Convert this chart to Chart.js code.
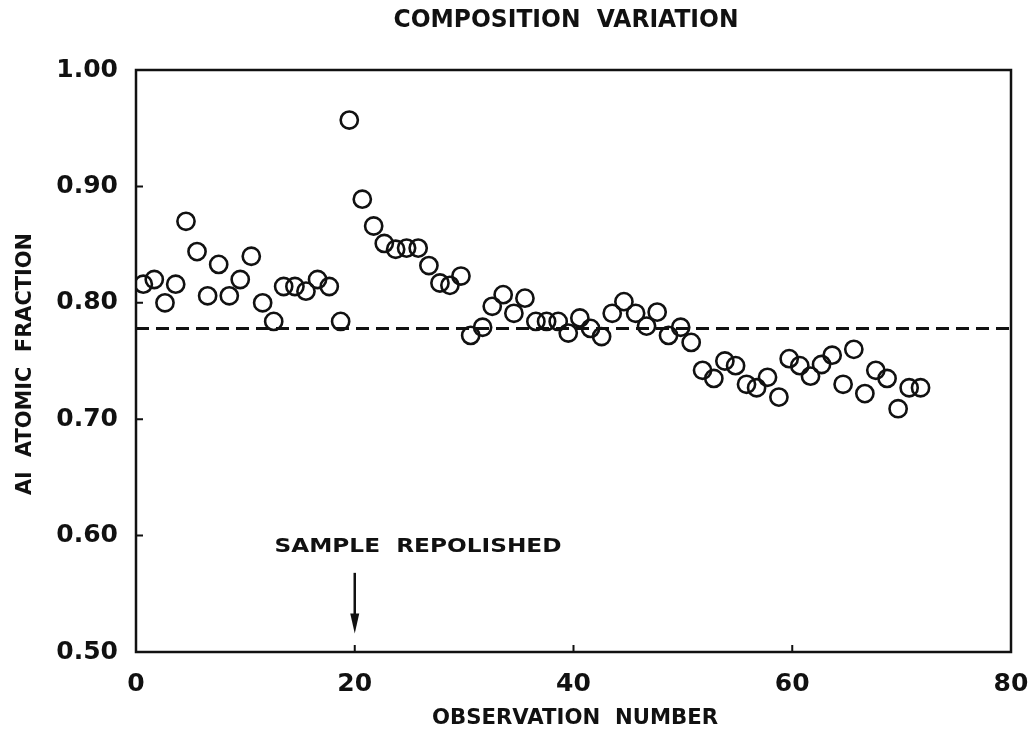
<!DOCTYPE html>
<html>
<head>
<meta charset="utf-8">
<title>Composition Variation</title>
<script src="https://cdn.jsdelivr.net/npm/chart.js@4/dist/chart.umd.min.js"></script>
<style>
    body { margin: 0; background: #ffffff; }
    #wrap { width: 1035px; height: 733px; }
</style>
</head>
<body>
<div id="wrap"><canvas id="chart" width="1035" height="733"></canvas></div>
<script>
// --------------------------------------------
// Data
// --------------------------------------------

const observation = [
    0.67, 1.67, 2.65, 3.63, 4.57, 5.58, 6.55, 7.56, 8.53, 9.53,
    10.54, 11.58, 12.59, 13.5, 14.53, 15.54, 16.6, 17.67, 18.71, 19.5,
    20.69, 21.73, 22.7, 23.74, 24.74, 25.8, 26.78, 27.79, 28.7, 29.71,
    30.6, 31.69, 32.57, 33.57, 34.55, 35.56, 36.56, 37.54, 38.6, 39.52,
    40.58, 41.56, 42.57, 43.54, 44.61, 45.68, 46.68, 47.65, 48.69, 49.8,
    50.76, 51.8, 52.83, 53.84, 54.82, 55.82, 56.74, 57.74, 58.78, 59.72,
    60.69, 61.67, 62.68, 63.65, 64.65, 65.63, 66.64, 67.64, 68.67, 69.68,
    70.69, 71.73
];

const alFraction = [
    0.816, 0.820, 0.800, 0.816, 0.870, 0.844, 0.806, 0.833, 0.806, 0.820,
    0.840, 0.800, 0.784, 0.814, 0.814, 0.810, 0.820, 0.814, 0.784, 0.957,
    0.889, 0.866, 0.851, 0.846, 0.847, 0.847, 0.832, 0.817, 0.815, 0.823,
    0.772, 0.779, 0.797, 0.807, 0.791, 0.804, 0.784, 0.784, 0.784, 0.774,
    0.787, 0.778, 0.771, 0.791, 0.801, 0.791, 0.780, 0.792, 0.772, 0.779,
    0.766, 0.742, 0.735, 0.750, 0.746, 0.730, 0.727, 0.736, 0.719, 0.752,
    0.746, 0.737, 0.747, 0.755, 0.730, 0.760, 0.722, 0.742, 0.735, 0.709,
    0.727, 0.727
];

const meanFraction = 0.778;
const meanRange = [0, 80];

const xTicks = [0, 20, 40, 60, 80];
const yTicks = [0.50, 0.60, 0.70, 0.80, 0.90, 1.00];

// arrow marking the repolish, in data units
const repolishAt = 20;
const arrowFrom = 0.568;
const arrowTo = 0.516;

const titleText = "COMPOSITION  VARIATION";
const xTitle = "OBSERVATION  NUMBER";
const yTitle = "Al  ATOMIC  FRACTION";
const noteText = "SAMPLE  REPOLISHED";


// --------------------------------------------
// Helpers
// --------------------------------------------

const FONT = "'DejaVu Sans', 'Liberation Sans', sans-serif";
const INK = "#111111";

// draw text squeezed to a given width, centred on (cx, cy)
function fittedText(ctx, text, cx, cy, width, font, angle) {

    ctx.save();
    ctx.font = font;
    ctx.fillStyle = INK;
    ctx.textAlign = "center";
    ctx.textBaseline = "middle";

    const natural = ctx.measureText(text).width;

    ctx.translate(cx, cy);
    if (angle) ctx.rotate(angle);
    ctx.scale(width / natural, 1);
    ctx.fillText(text, 0, 0);
    ctx.restore();

}


// --------------------------------------------
// Frame, inward ticks, labels and arrow
// --------------------------------------------

const decorPlugin = {

    id: "decor",

    afterDraw(chart) {

        const ctx = chart.ctx;
        const area = chart.chartArea;
        const xs = chart.scales.x;
        const ys = chart.scales.y;

        ctx.save();
        ctx.strokeStyle = INK;
        ctx.lineWidth = 2.5;
        ctx.strokeRect(area.left, area.top, area.right - area.left, area.bottom - area.top);

        ctx.lineWidth = 2;
        ctx.beginPath();
        yTicks.forEach(v => {
            const py = ys.getPixelForValue(v);
            ctx.moveTo(area.left, py);
            ctx.lineTo(area.left + 7, py);
        });
        xTicks.forEach(v => {
            const px = xs.getPixelForValue(v);
            ctx.moveTo(px, area.bottom);
            ctx.lineTo(px, area.bottom - 7);
        });
        ctx.stroke();

        // arrow
        const ax = xs.getPixelForValue(repolishAt);
        const a0 = ys.getPixelForValue(arrowFrom);
        const a1 = ys.getPixelForValue(arrowTo);

        ctx.lineWidth = 2.5;
        ctx.beginPath();
        ctx.moveTo(ax, a0);
        ctx.lineTo(ax, a1 - 12);
        ctx.stroke();

        ctx.fillStyle = INK;
        ctx.beginPath();
        ctx.moveTo(ax - 4.5, a1 - 20);
        ctx.lineTo(ax + 4.5, a1 - 20);
        ctx.lineTo(ax, a1);
        ctx.closePath();
        ctx.fill();
        ctx.restore();

        fittedText(ctx, titleText, 566, 20, 345, "bold 25px " + FONT);
        fittedText(ctx, noteText, 418, 547, 287, "bold 20px " + FONT);
        fittedText(ctx, xTitle, 575, 719, 286, "bold 21px " + FONT);
        fittedText(ctx, yTitle, 26, 364, 262, "bold 21px " + FONT, -Math.PI / 2);

    }

};


// --------------------------------------------
// Chart
// --------------------------------------------

const points = observation.map((x, i) => ({ x: x, y: alFraction[i] }));
const meanLine = meanRange.map(x => ({ x: x, y: meanFraction }));

new Chart(document.getElementById("chart"), {

    type: "scatter",

    data: {

        datasets: [
            {
                label: "Al fraction",
                data: points,
                pointStyle: "circle",
                pointRadius: 8.6,
                pointBorderWidth: 2.6,
                pointBorderColor: INK,
                pointBackgroundColor: "rgba(0,0,0,0)",
                showLine: false
            },
            {
                label: "Mean",
                data: meanLine,
                showLine: true,
                borderColor: INK,
                borderWidth: 3,
                borderDash: [13, 7],
                pointRadius: 0
            }
        ]

    },

    options: {

        responsive: false,
        animation: false,

        layout: {
            padding: { top: 70, right: 24, bottom: 0, left: 0 }
        },

        plugins: {
            legend: { display: false },
            tooltip: { enabled: false }
        },

        scales: {

            x: {
                type: "linear",
                min: 0,
                max: 80,
                afterFit(scale) {
                    scale.height = 81;
                    scale.paddingLeft = 0;
                    scale.paddingRight = 0;
                },
                afterBuildTicks(scale) { scale.ticks = xTicks.map(v => ({ value: v })); },
                grid: { display: false, drawTicks: false },
                border: { display: false },
                ticks: {
                    padding: 17,
                    color: INK,
                    font: { family: FONT, size: 25, weight: "bold" },
                    maxRotation: 0,
                    callback: v => String(v)
                }
            },

            y: {
                type: "linear",
                min: 0.5,
                max: 1.0,
                afterFit(scale) {
                    scale.width = 136;
                    scale.paddingTop = 0;
                    scale.paddingBottom = 0;
                },
                afterBuildTicks(scale) { scale.ticks = yTicks.map(v => ({ value: v })); },
                grid: { display: false, drawTicks: false },
                border: { display: false },
                ticks: {
                    padding: 18,
                    color: INK,
                    font: { family: FONT, size: 25, weight: "bold" },
                    callback: v => Number(v).toFixed(2)
                }
            }

        }

    },

    plugins: [decorPlugin]

});
</script>
</body>
</html>
